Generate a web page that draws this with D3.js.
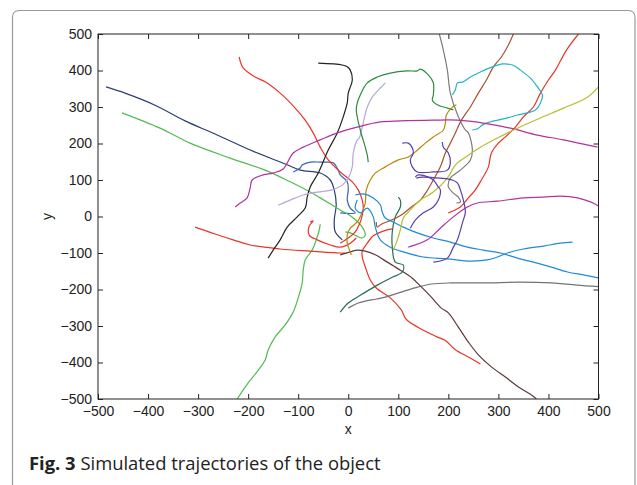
<!DOCTYPE html>
<html>
<head>
<meta charset="utf-8">
<script src="https://cdn.jsdelivr.net/npm/d3@7"></script>
<style>
  body { margin: 0; background: #fff; }
  svg { display: block; }
  .tick text { font-family: "Liberation Sans", Arial, sans-serif; font-size: 14px; fill: #222; }
  .tick line { stroke: #222; }
</style>
</head>
<body>
<svg id="chart" width="637" height="485"></svg>
<script>
// tick values shared by both axes
const ticks = [-500, -400, -300, -200, -100, 0, 100, 200, 300, 400, 500];

// trajectories as [x, y]
const navy = [[-484,355],[-446,338],[-386,305],[-326,262],[-266,226],[-196,182],[-126,144],[-96,127],[-56,119],[-36,100],[-28,73],[-24,32],[-28,-10],[-26,-42],[-12,-64]];
const blueHook = [[-110,122],[-96,133],[-92,141],[-76,149],[-56,149],[-46,149],[-30,147],[-20,127],[-16,114],[-2,95],[0,73],[-2,45],[4,23],[14,10],[-16,10]];
const greenLong = [[-452,284],[-376,242],[-316,201],[-236,160],[-166,127],[-116,95],[-76,67],[-56,51],[-16,18],[10,-4],[28,-29],[34,-51],[28,-59],[16,-53],[4,-45],[-6,-42]];
const greenDown = [[-56,-21],[-58,-37],[-64,-64],[-72,-92],[-86,-119],[-90,-147],[-92,-182],[-100,-223],[-110,-262],[-126,-297],[-146,-330],[-160,-366],[-166,-393],[-182,-425],[-200,-456],[-222,-500]];
const redTop = [[-218,437],[-210,407],[-186,382],[-166,369],[-136,338],[-106,297],[-86,264],[-70,229],[-56,190],[-40,155],[-16,122],[8,95],[20,73],[28,45],[30,23],[28,4],[24,-15],[14,-42],[0,-59],[-16,-73]];
const redLeft = [[-306,-29],[-266,-48],[-230,-64],[-196,-78],[-136,-89],[-76,-95],[-56,-97],[-16,-100],[-6,-100]];
const redLoop = [[-76,-15],[-70,-12],[-78,-26],[-78,-51],[-62,-64],[-36,-78],[-16,-84],[4,-73],[16,-59]];
const redDown = [[88,-34],[70,-40],[50,-53],[38,-73],[28,-95],[28,-111],[34,-138],[44,-174],[56,-196],[84,-223],[106,-256],[116,-282],[140,-304],[176,-329],[194,-340],[214,-365],[240,-385],[264,-404]];
const redRight = [[460,500],[436,456],[414,401],[400,374],[384,338],[370,300],[350,273],[334,245],[314,218],[300,201],[286,174],[280,136],[266,100],[254,73],[240,51],[224,26],[200,10]];
const black = [[-160,-114],[-150,-92],[-136,-64],[-122,-29],[-102,-1],[-86,23],[-82,53],[-76,81],[-60,119],[-40,182],[-22,229],[-10,273],[-2,311],[0,338],[8,374],[4,401],[-2,410],[-12,415],[-60,420]];
const lavender = [[-140,31],[-116,45],[-90,59],[-62,67],[-32,73],[-12,86],[0,105],[8,136],[10,174],[18,210],[22,215],[28,245],[38,300],[48,327],[60,346],[70,360],[74,366]];
const greenDark = [[40,149],[38,168],[34,190],[24,237],[16,292],[18,311],[24,333],[38,366],[58,382],[84,393],[118,399],[138,399],[144,404],[160,388],[170,366],[170,333],[168,319],[178,306],[198,297],[210,292]];
const greenTeal = [[100,53],[104,45],[104,26],[94,-1],[88,-42],[88,-84],[94,-125],[110,-133],[108,-152],[84,-169],[58,-188],[24,-216],[0,-237],[-16,-262]];
const grayTop = [[182,500],[190,456],[198,401],[204,338],[220,273],[234,237],[240,229],[248,182],[244,155],[224,127],[204,105],[200,81],[210,64],[220,53],[224,40],[216,37]];
const grayLow = [[0,-251],[20,-237],[56,-226],[74,-221],[106,-207],[140,-193],[166,-185],[206,-182],[274,-182],[340,-180],[406,-182],[474,-190],[500,-192]];
const brownDark = [[-16,-105],[4,-97],[18,-92],[34,-95],[54,-105],[78,-125],[104,-147],[128,-169],[146,-193],[166,-221],[186,-251],[200,-264],[220,-303],[240,-344],[260,-379],[286,-412],[314,-440],[340,-467],[366,-489],[376,-500]];
const sienna = [[330,500],[320,470],[306,437],[290,410],[276,374],[260,338],[244,300],[226,264],[214,229],[204,201],[194,174],[184,136],[170,100],[156,67],[144,45],[126,26],[106,4],[86,-10],[66,-21],[58,-29],[56,-15]];
const golden = [[216,306],[206,297],[196,278],[194,256],[190,237],[170,218],[154,201],[134,177],[120,163],[100,155],[74,136],[54,119],[44,100],[36,73],[34,37],[28,12],[18,-15],[4,-32],[-2,-51],[-2,-73],[4,-97],[6,-105]];
const skyA = [[14,59],[30,62],[50,51],[64,32],[68,12],[74,-4],[90,-15],[110,-29],[138,-45],[170,-59],[204,-70],[238,-84],[270,-92],[304,-100],[338,-114],[370,-125],[404,-138],[438,-152],[470,-160],[500,-168]];
const skyB = [[18,45],[14,23],[24,10],[38,23],[50,-1],[54,-29],[64,-64],[84,-84],[110,-97],[150,-111],[198,-116],[244,-122],[278,-119],[298,-111],[318,-100],[350,-89],[390,-81],[424,-73],[448,-70]];
const cyan = [[248,237],[260,242],[268,251],[284,259],[318,270],[338,278],[358,284],[374,292],[384,311],[388,333],[378,355],[364,379],[344,401],[328,415],[308,418],[288,410],[264,396],[244,382],[228,368],[218,366],[214,347],[208,333]];
const magentaTop = [[-226,26],[-216,37],[-202,51],[-196,78],[-192,100],[-170,114],[-150,119],[-130,130],[-110,174],[-90,190],[-56,210],[-22,229],[18,245],[64,259],[104,262],[170,264],[218,264],[270,256],[324,242],[378,223],[430,210],[498,190]];
const magentaLow = [[120,-84],[158,-64],[184,-32],[210,-1],[238,26],[258,37],[298,42],[350,51],[390,53],[424,56],[458,51],[484,40],[500,29]];
const olive = [[500,355],[478,327],[430,297],[384,270],[338,242],[298,215],[264,190],[238,166],[218,147],[210,133],[198,105],[170,67],[144,45],[124,18],[110,-4],[104,-37],[98,-64],[90,-92]];
const purpleU = [[108,201],[120,201],[128,188],[130,174],[124,155],[128,136],[138,122],[170,122],[198,127],[204,147],[200,174],[190,190],[188,204]];
const purpleS = [[134,108],[140,114],[160,108],[170,100],[180,81],[184,73],[180,45],[170,26],[150,10],[134,-10],[124,-32]];
const purpleLoop = [[136,105],[148,108],[184,105],[208,100],[218,92],[224,73],[230,45],[234,12],[228,-18],[218,-64],[210,-84],[198,-114],[170,-125]];

const series = [
  {name: "navy", pts: navy}, {name: "blueHook", pts: blueHook},
  {name: "greenLong", pts: greenLong}, {name: "greenDown", pts: greenDown},
  {name: "redTop", pts: redTop}, {name: "redLeft", pts: redLeft},
  {name: "redLoop", pts: redLoop}, {name: "redDown", pts: redDown},
  {name: "redRight", pts: redRight}, {name: "black", pts: black},
  {name: "lavender", pts: lavender}, {name: "greenDark", pts: greenDark},
  {name: "greenTeal", pts: greenTeal}, {name: "grayTop", pts: grayTop},
  {name: "grayLow", pts: grayLow}, {name: "brownDark", pts: brownDark},
  {name: "sienna", pts: sienna}, {name: "golden", pts: golden},
  {name: "skyA", pts: skyA}, {name: "skyB", pts: skyB},
  {name: "cyan", pts: cyan}, {name: "magentaTop", pts: magentaTop},
  {name: "magentaLow", pts: magentaLow}, {name: "olive", pts: olive},
  {name: "purpleU", pts: purpleU}, {name: "purpleS", pts: purpleS},
  {name: "purpleLoop", pts: purpleLoop}
];

const colors = {
  navy: "#2c3f6e", blueHook: "#3a63b3", greenLong: "#52bb52", greenDown: "#52bb52",
  redTop: "#ea3428", redLeft: "#ea3428", redLoop: "#ea3428", redDown: "#ea3428", redRight: "#ea3428",
  black: "#222222", lavender: "#b9a5d9", greenDark: "#2b8c3c", greenTeal: "#24704f",
  grayTop: "#7c7c7c", grayLow: "#737373", brownDark: "#5a3a3a", sienna: "#a4532c",
  golden: "#b8860b", skyA: "#1f8bd2", skyB: "#1f8bd2", cyan: "#22b6c4",
  magentaTop: "#b0339f", magentaLow: "#b0339f", olive: "#b9bd2f",
  purpleU: "#5a3da8", purpleS: "#5a3da8", purpleLoop: "#5a3da8"
};

const svg = d3.select('#chart');
const m = {t: 34, r: 38.5, b: 86, l: 98};
const W = 637 - m.l - m.r, H = 485 - m.t - m.b;

//figure frame, open at the bottom
svg.append('path')
  .attr('d', 'M12.5,490V17.5Q12.5,10.5 19.5,10.5H628Q635,10.5 635,17.5V490')
  .style('fill', 'none').style('stroke', '#9a9a9a').style('stroke-width', 1.2);

const x = d3.scaleLinear().domain([-500, 500]).range([0, W]);
const y = d3.scaleLinear().domain([-500, 500]).range([H, 0]);

const g = svg.append('g').attr('transform', `translate(${m.l},${m.t})`);

g.append('defs').append('clipPath').attr('id', 'clip')
  .append('rect').attr('width', W).attr('height', H);

const line = d3.line().x(d => x(d[0])).y(d => y(d[1])).curve(d3.curveCatmullRom.alpha(0.5));

g.append('g').attr('clip-path', 'url(#clip)')
  .selectAll('path.traj')
  .data(series)
  .enter()
  .append('path').attr('class', 'traj')
  .attr('d', d => line(d.pts))
  .style('fill', 'none')
  .style('stroke', d => colors[d.name])
  .style('stroke-width', 1.2);

//axes, MATLAB style inward ticks on all four sides
g.append('g').attr('transform', `translate(0,${H})`)
  .call(d3.axisBottom(x).tickValues(ticks).tickSizeInner(-5).tickSizeOuter(0).tickPadding(7));
g.append('g')
  .call(d3.axisLeft(y).tickValues(ticks).tickSizeInner(-5).tickSizeOuter(0).tickPadding(6));
g.append('g')
  .call(d3.axisTop(x).tickValues(ticks).tickSizeInner(-5).tickSizeOuter(0).tickFormat(''));
g.append('g').attr('transform', `translate(${W},0)`)
  .call(d3.axisRight(y).tickValues(ticks).tickSizeInner(-5).tickSizeOuter(0).tickFormat(''));
g.selectAll('.domain').remove();

g.append('rect').attr('width', W).attr('height', H)
  .style('fill', 'none').style('stroke', '#222').style('stroke-width', 1);

g.append('text')
  .attr('x', x(0)).attr('y', H + 35)
  .attr('text-anchor', 'middle')
  .style('font-family', '"Liberation Sans", Arial, sans-serif').style('font-size', '14px').style('fill', '#222')
  .text('x');
g.append('text')
  .attr('transform', `translate(-46,${y(0)}) rotate(-90)`)
  .attr('text-anchor', 'middle')
  .style('font-family', '"Liberation Sans", Arial, sans-serif').style('font-size', '14px').style('fill', '#222')
  .text('y');

//caption
const cap = svg.append('text')
  .attr('x', 29).attr('y', 470)
  .style('font-family', '"Open Sans", "Noto Sans", sans-serif').style('font-size', '18.4px').style('fill', '#222');
cap.append('tspan').style('font-weight', 'bold').text('Fig. 3');
cap.append('tspan').text(' Simulated trajectories of the object');
</script>
</body>
</html>
